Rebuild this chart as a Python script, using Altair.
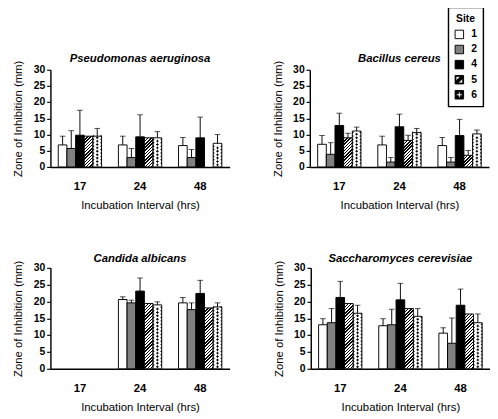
import math
import altair as alt

# ---------------- data ----------------
sites = ["1", "2", "4", "5", "6"]
times = ["17", "24", "48"]
panels = ["Pseudomonas aeruginosa", "Bacillus cereus", "Candida albicans", "Saccharomyces cerevisiae"]

pseudo_mean = [[6.8, 5.7, 9.8, 9.5, 9.5], [6.8, 2.9, 9.3, 9.0, 9.0], [6.6, 2.9, 9.0, None, 7.3]]
pseudo_sd = [[2.7, 5.5, 7.7, 0.0, 2.4], [2.7, 2.8, 6.8, 0.0, 1.9], [2.5, 2.5, 6.4, None, 2.7]]

bacillus_mean = [[7.0, 3.9, 12.8, 9.0, 11.1], [6.8, 1.5, 12.4, 8.2, 10.6], [6.6, 1.5, 9.7, 3.6, 10.2]]
bacillus_sd = [[2.7, 3.6, 3.8, 1.4, 1.2], [2.7, 1.4, 3.9, 1.6, 1.3], [2.5, 1.4, 5.0, 1.5, 1.2]]

candida_mean = [[None] * 5, [20.6, 19.6, 23.1, 19.4, 19.0], [19.6, 17.6, 22.4, 18.1, 18.4]]
candida_sd = [[None] * 5, [0.8, 0.8, 3.9, 0.4, 0.9], [1.6, 2.0, 3.9, 0.2, 1.2]]

sacchar_mean = [[13.1, 13.7, 21.2, 19.4, 16.5], [12.8, 13.1, 20.5, 17.9, 15.6], [10.6, 7.6, 18.9, 16.3, 13.7]]
sacchar_sd = [[1.8, 4.2, 4.8, 0.2, 2.4], [2.1, 4.6, 4.9, 0.0, 2.3], [1.6, 7.5, 4.8, 0.3, 2.6]]

panel_means = [pseudo_mean, bacillus_mean, candida_mean, sacchar_mean]
panel_sds = [pseudo_sd, bacillus_sd, candida_sd, sacchar_sd]
y_ticks = [0, 5, 10, 15, 20, 25, 30]

# ---------------- style ----------------
FONT = "Liberation Sans"
W = 190
HEIGHTS = [103, 103, 107, 107]
P_INNER, P_OUTER = 0.28, 0.13
STEP = W / (len(times) - P_INNER + 2 * P_OUTER)
BW = STEP * (1 - P_INNER) / len(sites)     # width of one bar in px
YMAX = 30

solid_fill = {"1": "white", "2": "#808080", "4": "black", "6": "white"}


def hatch(h, w=BW, period=2.4, frac=0.45):
    """diagonal '/' stripes as a linear gradient for a bar of w x h px"""
    h = max(h, 1.0)
    s = (w + h) / (w * w + h * h)
    n = ((w + h) / math.sqrt(2)) / period
    stops = []
    k = 0
    while k / n < 1:
        a, b, c = k / n, (k + frac) / n, (k + 1) / n
        stops.append({"offset": a, "color": "black"})
        stops.append({"offset": min(b, 1), "color": "black"})
        if b < 1:
            stops.append({"offset": b, "color": "white"})
            stops.append({"offset": min(c, 1), "color": "white"})
        k += 1
    return {"gradient": "linear", "x1": 0, "y1": 0, "x2": w * s, "y2": h * s, "stops": stops}


# pattern tile for site 6 (plus marks), coordinates in [-1, 1]
DOT_PATH = ("M-0.3,-0.11H-0.11V-0.3H0.11V-0.11H0.3V0.11H0.11V0.3H-0.11V0.11H-0.3Z "
            "M-1,-0.7H-0.89V-0.51H-0.7V-0.29H-0.89V-0.1H-1Z "
            "M1,-0.7H0.89V-0.51H0.7V-0.29H0.89V-0.1H1Z")
LEG5 = ("M-1,-1H1V1H-1Z M-0.8,-0.8V0.8H0.8V-0.8Z "
        "M-0.8,0.3L0.3,-0.8H0.8V-0.3L-0.3,0.8H-0.8Z")
LEG6 = ("M-1,-1H1V1H-1Z "
        "M-0.22,-0.7V-0.22H-0.7V0.22H-0.22V0.7H0.22V0.22H0.7V-0.22H0.22V-0.7Z")


def build_records(i):
    H = HEIGHTS[i]
    bars, errs, dots = [], [], []
    for ti, t in enumerate(times):
        for si, s in enumerate(sites):
            m = panel_means[i][ti][si]
            if m is None:
                continue
            sd = panel_sds[i][ti][si]
            hpx = m / YMAX * H
            fv = hatch(hpx) if s == "5" else solid_fill[s]
            bars.append({"time": t, "site": s, "mean": m, "fillv": fv})
            if sd and sd >= 0.5:
                errs.append({"time": t, "site": s, "mean": m, "hi": m + sd})
            if s == "6":
                ypx = 2.2
                while ypx + 1.6 < hpx:
                    dots.append({"time": t, "site": s, "yv": ypx * YMAX / H})
                    ypx += 3.6
    return bars, errs, dots


LEG = alt.Legend(title="Site", orient="none", legendX=422, legendY=-66,
                 titleFontWeight="bold", titleFontSize=11, titleAnchor="middle",
                 titleAlign="center", titlePadding=6, titleFont=FONT,
                 labelFontWeight="bold", labelFontSize=11, labelFont=FONT, labelOffset=7,
                 symbolSize=81, symbolStrokeColor="black", symbolStrokeWidth=1,
                 symbolOpacity=1, strokeColor="black", fillColor="white",
                 padding=6, rowPadding=3)


def panel(i, with_legend=False):
    H = HEIGHTS[i]
    bars, errs, dots = build_records(i)
    xs = alt.Scale(domain=times, paddingInner=P_INNER, paddingOuter=P_OUTER)
    xos = alt.Scale(domain=sites, paddingInner=0, paddingOuter=0)
    ys = alt.Scale(domain=[0, YMAX], nice=False)
    xaxis = alt.Axis(title="Incubation Interval (hrs)", labelAngle=0, ticks=False, labelPadding=15,
                     labelFontWeight="bold", labelFontSize=12, titleFontSize=12,
                     titleFontWeight="normal", titlePadding=9)
    yaxis = alt.Axis(title="Zone of Inhibition (mm)", values=y_ticks, labelOverlap=False,
                     labelFontWeight="bold", labelFontSize=11, tickSize=4, labelPadding=2,
                     titleFontSize=12, titleFontWeight="normal", titlePadding=9)
    X = alt.X("time:N", scale=xs, axis=xaxis, sort=times)
    XO = alt.XOffset("site:N", scale=xos, sort=sites)

    def Y(f):
        return alt.Y(f, scale=ys, axis=yaxis, title="Zone of Inhibition (mm)")

    bar = alt.Chart(alt.Data(values=bars)).mark_bar(stroke="black", strokeWidth=1).encode(
        x=X, xOffset=XO, y=Y("mean:Q"),
        color=alt.Color("fillv:N", scale=None, legend=None),
    )
    layers = [bar]
    if dots:
        dot = alt.Chart(alt.Data(values=dots)).mark_point(
            shape=DOT_PATH, filled=True, fill="black", strokeWidth=0, size=BW * BW, opacity=1
        ).encode(x=X, xOffset=XO, y=Y("yv:Q"))
        layers.append(dot)
    if errs:
        rule = alt.Chart(alt.Data(values=errs)).mark_rule(color="black", strokeWidth=1).encode(
            x=X, xOffset=XO, y=Y("mean:Q"), y2="hi:Q")
        cap = alt.Chart(alt.Data(values=errs)).mark_tick(color="black", thickness=1, size=6).encode(
            x=X, xOffset=XO, y=Y("hi:Q"))
        layers += [rule, cap]
    if with_legend:
        lg = alt.Chart(alt.Data(values=bars)).mark_point(
            filled=True, opacity=0, size=1, strokeWidth=1
        ).encode(
            x=X, xOffset=XO, y=Y("mean:Q"),
            fill=alt.Fill("site:N", scale=alt.Scale(domain=sites,
                          range=["white", "#808080", "black", "black", "black"]), legend=LEG),
            shape=alt.Shape("site:N", scale=alt.Scale(domain=sites,
                            range=["square", "square", "square", LEG5, LEG6]), legend=LEG),
            stroke=alt.Stroke("site:N", scale=alt.Scale(domain=sites,
                              range=["black"] * len(sites)), legend=LEG),
        )
        layers.append(lg)
    return alt.layer(*layers).properties(
        width=W, height=H,
        title=alt.TitleParams(panels[i], frame="group", anchor="middle", fontStyle="italic",
                              fontWeight="bold", fontSize=12, font=FONT, offset=-5),
    )


row1 = alt.hconcat(panel(0), panel(1, with_legend=True), spacing=44)
row2 = alt.hconcat(panel(2), panel(3), spacing=45)

chart = alt.vconcat(row1, row2, spacing=44).properties(
    padding={"left": 4, "top": -14, "right": 0, "bottom": 0}
).configure(font=FONT).configure_view(stroke=None).configure_axis(
    grid=False, domainColor="black", tickColor="black", labelColor="black", titleColor="black",
    domainWidth=1.5, tickWidth=1.2, labelFont=FONT, titleFont=FONT, labelOverlap=False,
).configure_legend(strokeWidth=1.5).configure_title(color="black")

chart.save("out.html", embed_options={"renderer": "svg", "actions": False})
